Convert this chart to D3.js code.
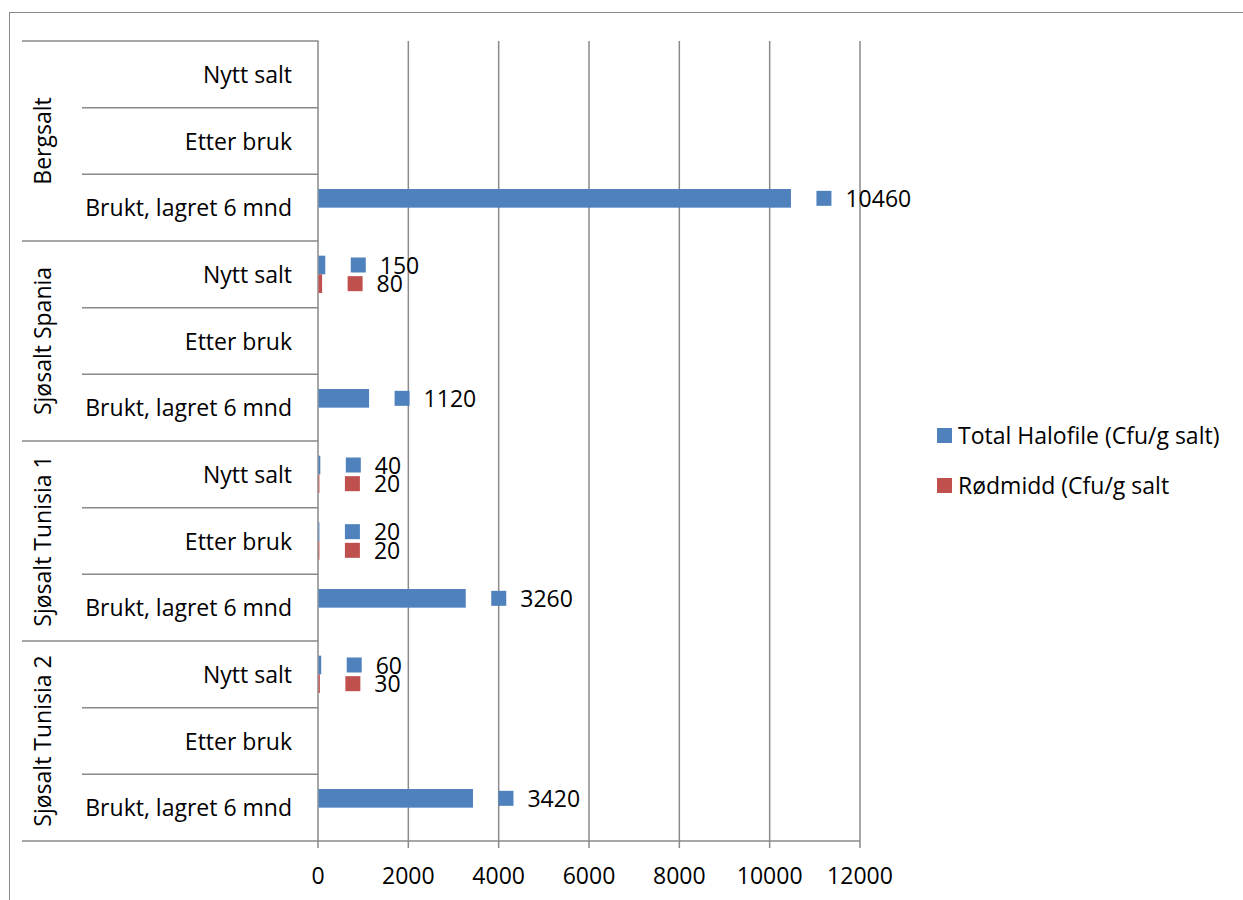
<!DOCTYPE html>
<html lang="no">
<head>
<meta charset="UTF-8" />
<title>Halofile og rødmidd i salt</title>
<script src="https://d3js.org/d3.v7.min.js"></script>
<style>
    body { margin: 0; background: #fff; }
    svg text { font-family: "Open Sans", "Noto Sans", sans-serif; fill: #000; }
</style>
</head>
<body>
<div id="chart"></div>
<script>
    // --- Data (top to bottom as shown) ---
    const groups = ["Bergsalt", "Sjøsalt Spania", "Sjøsalt Tunisia 1", "Sjøsalt Tunisia 2"];
    const stages = ["Nytt salt", "Etter bruk", "Brukt, lagret 6 mnd"];
    const series = ["Total Halofile (Cfu/g salt)", "Rødmidd (Cfu/g salt"];
    const colors = ["#4F81BD", "#C0504D"];
    // one value per group x stage, null = no measurement
    const halofile = [null, null, 10460, 150, null, 1120, 40, 20, 3260, 60, null, 3420];
    const rodmidd  = [null, null, null,   80,  null, null, 20, 20, null, 30, null, null];
    const xTicks = [0, 2000, 4000, 6000, 8000, 10000, 12000];

    const W = 1243, H = 900;
    const FS = 23;
    const svg = d3.select("#chart").append("svg")
        .attr("width", W).attr("height", H);

    // outer frame (runs off the right and bottom edge)
    svg.append("rect")
        .attr("x", 9.5).attr("y", 12.5)
        .attr("width", W).attr("height", H)
        .attr("fill", "none").attr("stroke", "#888").attr("stroke-width", 1);

    const rows = [];
    groups.forEach((g, gi) => stages.forEach((s, si) => rows.push({ group: g, stage: s, gi: gi, si: si })));
    rows.forEach((r, i) => { r.values = [halofile[i], rodmidd[i]]; r.idx = i; });

    const x = d3.scaleLinear().domain([0, 12000]).range([318, 860]);
    const y = d3.scaleBand().domain(d3.range(rows.length)).range([41, 841]);
    const yInner = d3.scaleBand().domain([0, 1]).range([0, y.bandwidth()]).paddingOuter(0.786);

    const gridColor = "#8a8a8a";

    // vertical gridlines + ticks
    svg.append("g").selectAll("line").data(xTicks).join("line")
        .attr("x1", d => x(d)).attr("x2", d => x(d))
        .attr("y1", 41).attr("y2", 848)
        .attr("stroke", gridColor).attr("stroke-width", 1.5);

    // x axis line
    svg.append("line")
        .attr("x1", x(0)).attr("x2", x(12000)).attr("y1", 841).attr("y2", 841)
        .attr("stroke", gridColor).attr("stroke-width", 1.5);

    // tick labels
    svg.append("g").selectAll("text").data(xTicks).join("text")
        .attr("x", d => x(d)).attr("y", 884)
        .attr("text-anchor", "middle")
        .attr("font-size", FS)
        .text(d => d);

    // category lines: row boundaries (inner) and group boundaries (long)
    const bounds = d3.range(rows.length + 1);
    svg.append("g").selectAll("line").data(bounds).join("line")
        .attr("x1", d => d % 3 === 0 ? 22 : 82)
        .attr("x2", x(0) + 0.5)
        .attr("y1", d => d < rows.length ? y(d) : 841)
        .attr("y2", d => d < rows.length ? y(d) : 841)
        .attr("stroke", gridColor).attr("stroke-width", 1.5);

    // stage labels
    svg.append("g").selectAll("text").data(rows).join("text")
        .attr("x", 292)
        .attr("y", d => y(d.idx) + y.bandwidth() / 2 + 8.5)
        .attr("text-anchor", "end")
        .attr("font-size", FS)
        .text(d => d.stage);

    // group labels, rotated
    svg.append("g").selectAll("text").data(groups).join("text")
        .attr("transform", (d, i) => {
            const cy = y(i * 3) + y.bandwidth() * 1.5;
            return `translate(51,${cy}) rotate(-90)`;
        })
        .attr("text-anchor", "middle")
        .attr("font-size", FS)
        .text(d => d);

    // bars
    const barData = [];
    rows.forEach(r => r.values.forEach((v, k) => {
        if (v !== null) barData.push({ row: r.idx, k: k, v: v });
    }));

    svg.append("g").selectAll("rect").data(barData).join("rect")
        .attr("x", x(0) + 0.5)
        .attr("y", d => y(d.row) + yInner(d.k))
        .attr("width", d => x(d.v) - x(0))
        .attr("height", yInner.bandwidth())
        .attr("fill", d => colors[d.k]);

    // data labels with legend key
    const lab = svg.append("g").selectAll("g").data(barData).join("g")
        .attr("transform", d => {
            const cy = y(d.row) + yInner(d.k) + yInner.bandwidth() / 2;
            return `translate(${x(d.v) + 26},${cy})`;
        });
    lab.append("rect")
        .attr("x", 0).attr("y", -7.5)
        .attr("width", 15).attr("height", 15)
        .attr("fill", d => colors[d.k]);
    lab.append("text")
        .attr("x", 29).attr("y", 8.5)
        .attr("font-size", FS)
        .text(d => d.v);

    // legend
    const leg = svg.append("g").selectAll("g").data(series).join("g")
        .attr("transform", (d, i) => `translate(937,${428 + i * 50})`);
    leg.append("rect")
        .attr("width", 15).attr("height", 15)
        .attr("fill", (d, i) => colors[i]);
    leg.append("text")
        .attr("x", 21).attr("y", 16)
        .attr("font-size", FS)
        .text(d => d);
</script>
</body>
</html>
